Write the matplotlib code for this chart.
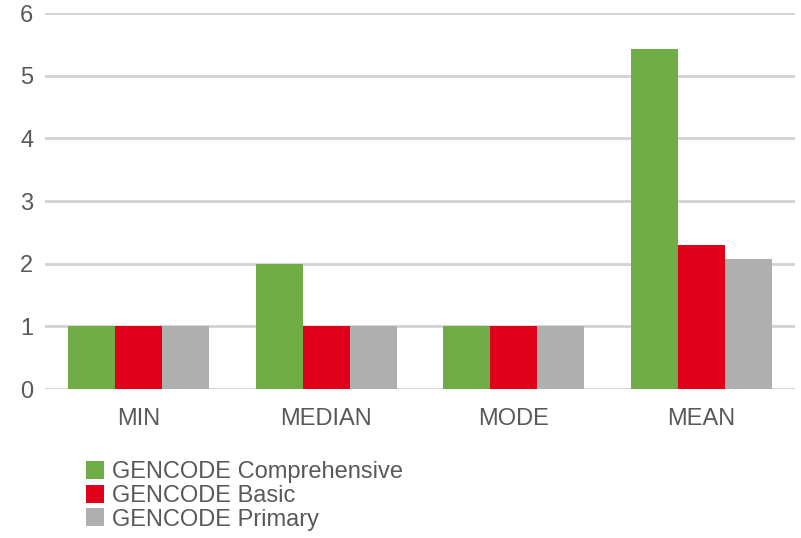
import matplotlib
matplotlib.use("Agg")
import matplotlib.pyplot as plt
import numpy as np

categories = ["MIN", "MEDIAN", "MODE", "MEAN"]
series_names = ["GENCODE Comprehensive", "GENCODE Basic", "GENCODE Primary"]
comprehensive = [1, 2, 1, 5.43]
basic = [1, 1, 1, 2.29]
primary = [1, 1, 1, 2.07]
colors = ["#70AD47", "#E0001B", "#AFAFAF"]

plt.rcParams["font.family"] = ["Liberation Sans", "DejaVu Sans"]

fig = plt.figure(figsize=(8.01, 5.38), dpi=100)
ax = fig.add_axes([45 / 801, 1 - 389 / 538, 750 / 801, 376 / 538])

x = np.arange(len(categories))
width = 0.25
handles = []
for i, (vals, name, col) in enumerate(zip([comprehensive, basic, primary], series_names, colors)):
    b = ax.bar(x + (i - 1) * width, vals, width, color=col, label=name, zorder=3)
    handles.append(b)

ax.set_xlim(-0.5, len(categories) - 0.5)
ax.set_ylim(0, 6)
ax.set_yticks(range(0, 7))
ax.set_xticks(x)
ax.set_xticklabels(categories)
ax.yaxis.grid(True, color="#D3D3D3", linewidth=2, zorder=0)
ax.set_axisbelow(True)
for s in ax.spines.values():
    s.set_visible(False)
ax.tick_params(axis="both", length=0, labelsize=17, colors="#595959")
ax.tick_params(axis="y", pad=8.5)
ax.tick_params(axis="x", pad=14)

fig.legend(handles=handles, labels=series_names, loc="upper left",
           bbox_to_anchor=(86 / 801, 1 - 461 / 538), frameon=False,
           fontsize=17, handlelength=0.78, handleheight=0.78,
           handletextpad=0.3, labelspacing=0.07, borderaxespad=0,
           borderpad=0, labelcolor="#595959")

fig.savefig("out.png", dpi=100)
